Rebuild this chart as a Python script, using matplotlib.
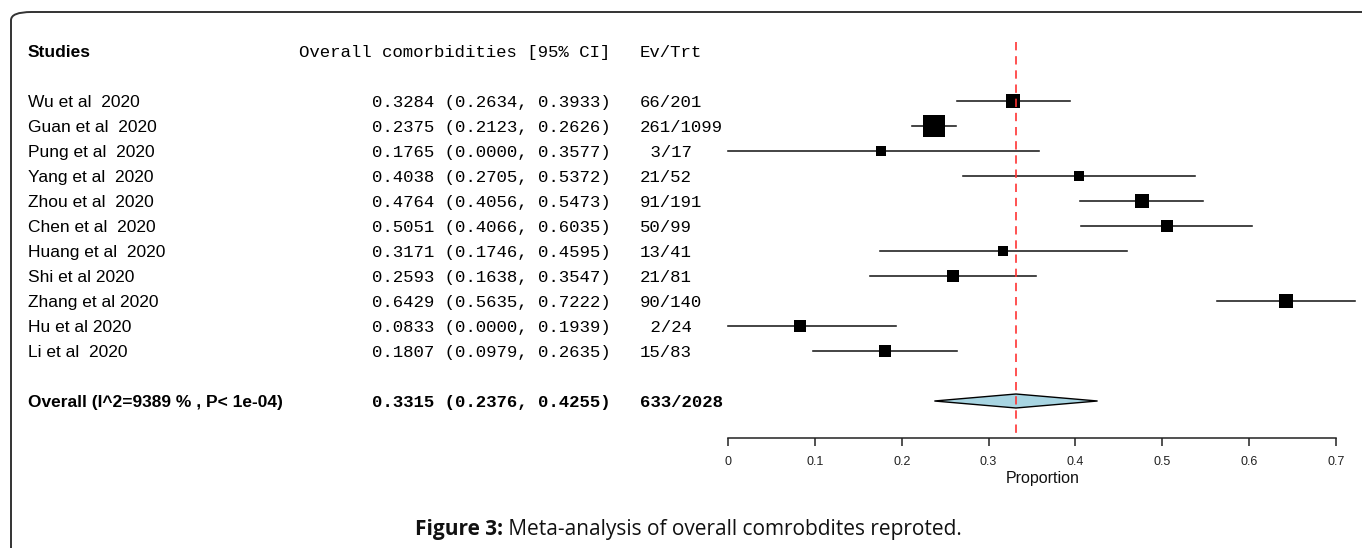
import numpy as np
import matplotlib.pyplot as plt
import matplotlib.transforms as mtransforms
from matplotlib.patches import FancyBboxPatch, Polygon

# study data
studies = ["Wu et al  2020", "Guan et al  2020", "Pung et al  2020", "Yang et al  2020",
           "Zhou et al  2020", "Chen et al  2020", "Huang et al  2020", "Shi et al 2020",
           "Zhang et al 2020", "Hu et al 2020", "Li et al  2020"]
est = [0.3284, 0.2375, 0.1765, 0.4038, 0.4764, 0.5051, 0.3171, 0.2593, 0.6429, 0.0833, 0.1807]
lo = [0.2634, 0.2123, 0.0000, 0.2705, 0.4056, 0.4066, 0.1746, 0.1638, 0.5635, 0.0000, 0.0979]
hi = [0.3933, 0.2626, 0.3577, 0.5372, 0.5473, 0.6035, 0.4595, 0.3547, 0.7222, 0.1939, 0.2635]
events = ["66/201", "261/1099", " 3/17", "21/52", "91/191", "50/99", "13/41", "21/81",
          "90/140", " 2/24", "15/83"]
weights = [9.7, 25.4, 4.7, 5.8, 9.7, 7.0, 5.8, 7.0, 9.7, 7.0, 8.3]

overall_label = "Overall (I^2=9389 % , P< 1e-04)"
overall = (0.3315, 0.2376, 0.4255)
overall_events = "633/2028"
xticks = [0, 0.1, 0.2, 0.3, 0.4, 0.5, 0.6, 0.7]

W, H = 1362, 548
fig = plt.figure(figsize=(W / 100, H / 100), dpi=100)

# forest panel: x=0 at px 728, 0.7 at px 1336
ppu = (1336 - 728) / 0.7
ax = fig.add_axes([728 / W, (H - 438) / H, (W - 728) / W, 438 / H])
ax.set_xlim(0, (W - 728) / ppu)
ax.set_ylim((438 - 101) / 25, (0 - 101) / 25)
ov_row = 12

rows = np.arange(len(studies))
for i in rows:
    ax.plot([lo[i], hi[i]], [i, i], color="#1a1a1a", lw=1.15, clip_on=False, zorder=2)
    side = 4.2 * np.sqrt(weights[i])  # px
    ax.plot(est[i], i, marker="s", ms=side * 0.72, color="black", mec="black", mew=0,
            clip_on=False, zorder=3)

m, l, h = overall
dh = 0.28
ax.add_patch(Polygon([[l, ov_row], [m, ov_row - dh], [h, ov_row], [m, ov_row + dh]],
                     closed=True, fc="#A8D5E2", ec="black", lw=1.0, zorder=3))

ax.plot([m, m], [(42 - 101) / 25, (438 - 101) / 25], color="#FF3333", lw=1.2,
        linestyle=(0, (5, 3.5)), zorder=4)

for s in ["top", "right", "left"]:
    ax.spines[s].set_visible(False)
ax.spines["bottom"].set_bounds(0, 0.7)
ax.spines["bottom"].set_linewidth(1.1)
ax.spines["bottom"].set_color("#222222")
ax.set_yticks([])
ax.set_xticks(xticks)
ax.set_xticklabels(["0" if t == 0 else f"{t:.1f}" for t in xticks])
ax.tick_params(axis="x", length=6, width=1.1, color="#222222", pad=7,
               labelsize=9, labelcolor="#222222")
for lab in ax.get_xticklabels():
    lab.set_family("Liberation Sans")
ax.patch.set_alpha(0)

fig.text(1043 / W, 1 - 478 / H, "Proportion", ha="center", va="center",
         family="Liberation Sans", fontsize=11.5, color="#111111")

# table text
tr = mtransforms.blended_transform_factory(fig.transFigure, ax.transData)
sans = "Liberation Sans"
mono = "Liberation Mono"
fs_s, fs_m = 12.5, 12.5
va = "center_baseline"
fig.text(28 / W, -2, "Studies", transform=tr, family=sans, weight="bold", fontsize=fs_s, va=va)
fig.text(299 / W, -2, "Overall comorbidities [95% CI]", transform=tr, family=mono,
         fontsize=fs_m, va=va)
fig.text(640 / W, -2, "Ev/Trt", transform=tr, family=mono, fontsize=fs_m, va=va)
for i in rows:
    fig.text(28 / W, i, studies[i], transform=tr, family=sans, fontsize=fs_s, va=va)
    fig.text(372 / W, i, f"{est[i]:.4f} ({lo[i]:.4f}, {hi[i]:.4f})", transform=tr,
             family=mono, fontsize=fs_m, va=va)
    fig.text(640 / W, i, events[i], transform=tr, family=mono, fontsize=fs_m, va=va)
fig.text(28 / W, ov_row, overall_label, transform=tr, family=sans, weight="bold",
         fontsize=fs_s, va=va)
fig.text(372 / W, ov_row, f"{m:.4f} ({l:.4f}, {h:.4f})", transform=tr, family=mono,
         weight="bold", fontsize=fs_m, va=va)
fig.text(640 / W, ov_row, overall_events, transform=tr, family=mono, weight="bold",
         fontsize=fs_m, va=va)

# caption
t1 = fig.text(415 / W, 1 - 529 / H, "Figure 3:", family="Open Sans", weight="bold",
              fontsize=15, va="center", color="#111111")
ax.annotate(" Meta-analysis of overall comrobdites reproted.", xy=(1, 0), xycoords=t1,
            va="bottom", ha="left", family="Open Sans", fontsize=15, color="#111111",
            annotation_clip=False)

# rounded frame
frame = FancyBboxPatch((11 / W, -0.2), 1.2, (H - 12) / H + 0.2,
                       boxstyle="round,pad=0,rounding_size=0.015",
                       transform=fig.transFigure, fc="none", ec="#333333", lw=1.4,
                       clip_on=False)
fig.patches.append(frame)

fig.savefig("out.png", dpi=100)
